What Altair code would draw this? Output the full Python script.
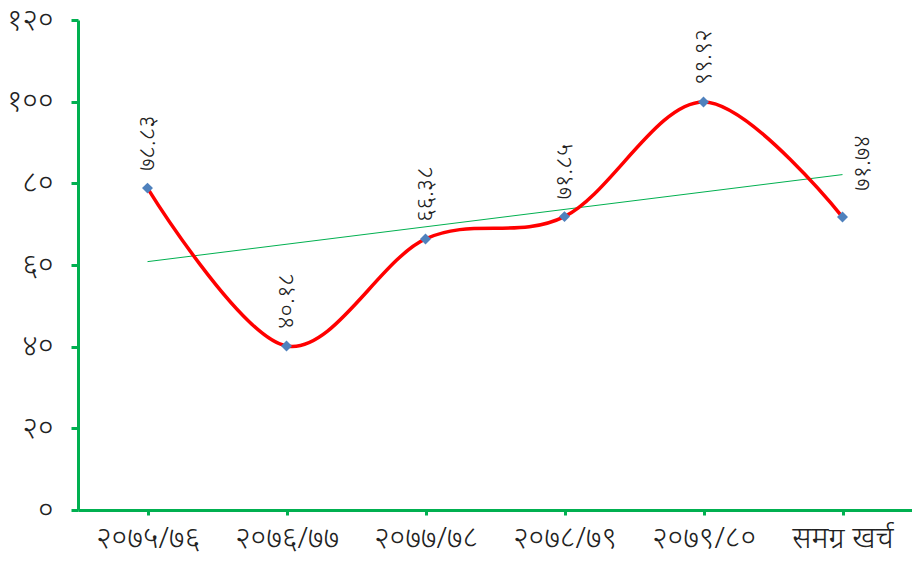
import altair as alt
import pandas as pd

categories = ["२०७५/७६", "२०७६/७७", "२०७७/७८", "२०७८/७९", "२०७९/८०", "समग्र खर्च"]
values = [78.83, 40.18, 66.38, 71.85, 99.92, 71.74]
value_labels = ["७८.८३", "४०.१८", "६६.३८", "७१.८५", "९९.९२", "७१.७४"]
y_tick_labels = ["०", "२०", "४०", "६०", "८०", "१००", "१२०"]

df = pd.DataFrame({
    "i": list(range(1, len(categories) + 1)),
    "cat": categories,
    "v": values,
    "lab": value_labels,
})

font = "Noto Sans"
green = "#00B050"

cat_expr = "[" + ",".join("'" + c + "'" for c in categories) + "]"
ytick_expr = "[" + ",".join("'" + c + "'" for c in y_tick_labels) + "]"

x = alt.X("i:Q", scale=alt.Scale(domain=[0.5, 6.5], nice=False, zero=False),
          axis=alt.Axis(values=list(range(1, 7)), labelExpr=f"{cat_expr}[datum.value-1]",
                        title=None, grid=False, labelPadding=8))
y = alt.Y("v:Q", scale=alt.Scale(domain=[0, 120], nice=False),
          axis=alt.Axis(values=[0, 20, 40, 60, 80, 100, 120],
                        labelExpr=f"{ytick_expr}[datum.value/20]",
                        title=None, grid=False, tickSize=7, labelPadding=18))

base = alt.Chart(df)

line = base.mark_line(interpolate="cardinal", color="#FF0000", strokeWidth=3.5).encode(x=x, y=y)
trend = base.transform_regression("i", "v").mark_line(color=green, strokeWidth=1).encode(x=x, y=y)
pts = base.mark_point(shape="diamond", filled=True, size=120, color="#4F81BD", opacity=1).encode(x=x, y=y)
labels = base.transform_filter("datum.i < 6").mark_text(
    angle=270, align="left", baseline="middle", dx=17, fontSize=24, font=font, color="#222",
    fontWeight=300
).encode(x=x, y=y, text="lab:N")
labels_last = base.transform_filter("datum.i == 6").mark_text(
    angle=270, align="left", baseline="middle", dx=26, dy=20, fontSize=24, font=font, color="#222",
    fontWeight=300
).encode(x=x, y=y, text="lab:N")

chart = alt.layer(trend, line, pts, labels, labels_last).properties(
    width=834, height=490,
    background="white",
    autosize=alt.AutoSizeParams(type="none"),
    padding={"left": 70, "top": 12, "right": 0, "bottom": 47},
).configure_view(stroke=None).configure_axis(
    domainColor=green, domainWidth=3, tickColor=green, tickWidth=3,
    labelFontSize=30, labelFont=font, labelColor="#222", labelFontWeight=300
).configure_axisX(tickSize=5)

chart.save("out.html", embed_options={"renderer": "svg", "actions": False})
